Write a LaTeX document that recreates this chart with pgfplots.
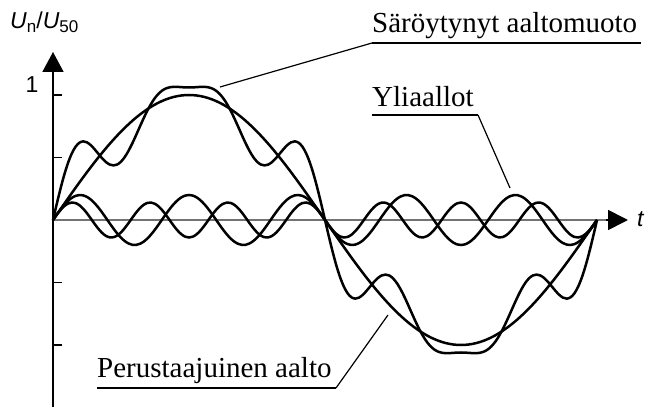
\documentclass[border=0pt]{standalone}
\usepackage{fontspec}
\setmainfont{Liberation Serif}
\newfontfamily\arial{Liberation Sans}
\usepackage{pgfplots}
\pgfplotsset{compat=1.18}
\usepackage{pgfplotstable}
\usetikzlibrary{arrows.meta}

% One period of the 50 Hz voltage (angle in degrees):
% s = fundamental, h5 = 5th harmonic, h7 = 7th harmonic, f = their sum
\pgfplotstableread{
t s h5 h7 f
0 0 0 0 0
2.5 0.0436 0.0433 0.0421 0.1290
5 0.0872 0.0845 0.0803 0.2520
7.5 0.1305 0.1218 0.1111 0.3634
10 0.1736 0.1532 0.1316 0.4584
12.5 0.2164 0.1774 0.1399 0.5337
15 0.2588 0.1932 0.1352 0.5872
17.5 0.3007 0.1998 0.1181 0.6186
20 0.3420 0.1970 0.0900 0.6290
22.5 0.3827 0.1848 0.0536 0.6211
25 0.4226 0.1638 0.0122 0.5986
27.5 0.4617 0.1351 -0.0303 0.5665
30 0.5000 0.1000 -0.0700 0.5300
32.5 0.5373 0.0601 -0.1032 0.4942
35 0.5736 0.0174 -0.1269 0.4641
37.5 0.6088 -0.0261 -0.1388 0.4439
40 0.6428 -0.0684 -0.1379 0.4365
42.5 0.6756 -0.1075 -0.1242 0.4439
45 0.7071 -0.1414 -0.0990 0.4667
47.5 0.7373 -0.1687 -0.0646 0.5040
50 0.7660 -0.1879 -0.0243 0.5538
52.5 0.7934 -0.1983 0.0183 0.6134
55 0.8192 -0.1992 0.0592 0.6792
57.5 0.8434 -0.1907 0.0946 0.7473
60 0.8660 -0.1732 0.1212 0.8140
62.5 0.8870 -0.1475 0.1367 0.8762
65 0.9063 -0.1147 0.1395 0.9311
67.5 0.9239 -0.0765 0.1293 0.9767
70 0.9397 -0.0347 0.1072 1.0122
72.5 0.9537 0.0087 0.0752 1.0376
75 0.9659 0.0518 0.0362 1.0539
77.5 0.9763 0.0923 -0.0061 1.0625
80 0.9848 0.1286 -0.0479 1.0655
82.5 0.9914 0.1587 -0.0852 1.0649
85 0.9962 0.1813 -0.1147 1.0628
87.5 0.9990 0.1953 -0.1335 1.0608
90 1.0000 0.2000 -0.1400 1.0600
92.5 0.9990 0.1953 -0.1335 1.0608
95 0.9962 0.1813 -0.1147 1.0628
97.5 0.9914 0.1587 -0.0852 1.0649
100 0.9848 0.1286 -0.0479 1.0655
102.5 0.9763 0.0923 -0.0061 1.0625
105 0.9659 0.0518 0.0362 1.0539
107.5 0.9537 0.0087 0.0752 1.0376
110 0.9397 -0.0347 0.1072 1.0122
112.5 0.9239 -0.0765 0.1293 0.9767
115 0.9063 -0.1147 0.1395 0.9311
117.5 0.8870 -0.1475 0.1367 0.8762
120 0.8660 -0.1732 0.1212 0.8140
122.5 0.8434 -0.1907 0.0946 0.7473
125 0.8192 -0.1992 0.0592 0.6792
127.5 0.7934 -0.1983 0.0183 0.6134
130 0.7660 -0.1879 -0.0243 0.5538
132.5 0.7373 -0.1687 -0.0646 0.5040
135 0.7071 -0.1414 -0.0990 0.4667
137.5 0.6756 -0.1075 -0.1242 0.4439
140 0.6428 -0.0684 -0.1379 0.4365
142.5 0.6088 -0.0261 -0.1388 0.4439
145 0.5736 0.0174 -0.1269 0.4641
147.5 0.5373 0.0601 -0.1032 0.4942
150 0.5000 0.1000 -0.0700 0.5300
152.5 0.4617 0.1351 -0.0303 0.5665
155 0.4226 0.1638 0.0122 0.5986
157.5 0.3827 0.1848 0.0536 0.6211
160 0.3420 0.1970 0.0900 0.6290
162.5 0.3007 0.1998 0.1181 0.6186
165 0.2588 0.1932 0.1352 0.5872
167.5 0.2164 0.1774 0.1399 0.5337
170 0.1736 0.1532 0.1316 0.4584
172.5 0.1305 0.1218 0.1111 0.3634
175 0.0872 0.0845 0.0803 0.2520
177.5 0.0436 0.0433 0.0421 0.1290
180 0 0 0 0
182.5 -0.0436 -0.0433 -0.0421 -0.1290
185 -0.0872 -0.0845 -0.0803 -0.2520
187.5 -0.1305 -0.1218 -0.1111 -0.3634
190 -0.1736 -0.1532 -0.1316 -0.4584
192.5 -0.2164 -0.1774 -0.1399 -0.5337
195 -0.2588 -0.1932 -0.1352 -0.5872
197.5 -0.3007 -0.1998 -0.1181 -0.6186
200 -0.3420 -0.1970 -0.0900 -0.6290
202.5 -0.3827 -0.1848 -0.0536 -0.6211
205 -0.4226 -0.1638 -0.0122 -0.5986
207.5 -0.4617 -0.1351 0.0303 -0.5665
210 -0.5000 -0.1000 0.0700 -0.5300
212.5 -0.5373 -0.0601 0.1032 -0.4942
215 -0.5736 -0.0174 0.1269 -0.4641
217.5 -0.6088 0.0261 0.1388 -0.4439
220 -0.6428 0.0684 0.1379 -0.4365
222.5 -0.6756 0.1075 0.1242 -0.4439
225 -0.7071 0.1414 0.0990 -0.4667
227.5 -0.7373 0.1687 0.0646 -0.5040
230 -0.7660 0.1879 0.0243 -0.5538
232.5 -0.7934 0.1983 -0.0183 -0.6134
235 -0.8192 0.1992 -0.0592 -0.6792
237.5 -0.8434 0.1907 -0.0946 -0.7473
240 -0.8660 0.1732 -0.1212 -0.8140
242.5 -0.8870 0.1475 -0.1367 -0.8762
245 -0.9063 0.1147 -0.1395 -0.9311
247.5 -0.9239 0.0765 -0.1293 -0.9767
250 -0.9397 0.0347 -0.1072 -1.0122
252.5 -0.9537 -0.0087 -0.0752 -1.0376
255 -0.9659 -0.0518 -0.0362 -1.0539
257.5 -0.9763 -0.0923 0.0061 -1.0625
260 -0.9848 -0.1286 0.0479 -1.0655
262.5 -0.9914 -0.1587 0.0852 -1.0649
265 -0.9962 -0.1813 0.1147 -1.0628
267.5 -0.9990 -0.1953 0.1335 -1.0608
270 -1.0000 -0.2000 0.1400 -1.0600
272.5 -0.9990 -0.1953 0.1335 -1.0608
275 -0.9962 -0.1813 0.1147 -1.0628
277.5 -0.9914 -0.1587 0.0852 -1.0649
280 -0.9848 -0.1286 0.0479 -1.0655
282.5 -0.9763 -0.0923 0.0061 -1.0625
285 -0.9659 -0.0518 -0.0362 -1.0539
287.5 -0.9537 -0.0087 -0.0752 -1.0376
290 -0.9397 0.0347 -0.1072 -1.0122
292.5 -0.9239 0.0765 -0.1293 -0.9767
295 -0.9063 0.1147 -0.1395 -0.9311
297.5 -0.8870 0.1475 -0.1367 -0.8762
300 -0.8660 0.1732 -0.1212 -0.8140
302.5 -0.8434 0.1907 -0.0946 -0.7473
305 -0.8192 0.1992 -0.0592 -0.6792
307.5 -0.7934 0.1983 -0.0183 -0.6134
310 -0.7660 0.1879 0.0243 -0.5538
312.5 -0.7373 0.1687 0.0646 -0.5040
315 -0.7071 0.1414 0.0990 -0.4667
317.5 -0.6756 0.1075 0.1242 -0.4439
320 -0.6428 0.0684 0.1379 -0.4365
322.5 -0.6088 0.0261 0.1388 -0.4439
325 -0.5736 -0.0174 0.1269 -0.4641
327.5 -0.5373 -0.0601 0.1032 -0.4942
330 -0.5000 -0.1000 0.0700 -0.5300
332.5 -0.4617 -0.1351 0.0303 -0.5665
335 -0.4226 -0.1638 -0.0122 -0.5986
337.5 -0.3827 -0.1848 -0.0536 -0.6211
340 -0.3420 -0.1970 -0.0900 -0.6290
342.5 -0.3007 -0.1998 -0.1181 -0.6186
345 -0.2588 -0.1932 -0.1352 -0.5872
347.5 -0.2164 -0.1774 -0.1399 -0.5337
350 -0.1736 -0.1532 -0.1316 -0.4584
352.5 -0.1305 -0.1218 -0.1111 -0.3634
355 -0.0872 -0.0845 -0.0803 -0.2520
357.5 -0.0436 -0.0433 -0.0421 -0.1290
360 0 0 0 0
}\waves

\begin{document}
\begin{tikzpicture}
\begin{axis}[
  at={(0,0)}, anchor=south west,
  scale only axis, width=649bp, height=407bp,
  xmin=-35.07, xmax=394.4, ymin=-1.496, ymax=1.76,
  hide axis, clip=false,
  curve/.style={black, line width=2.5bp, smooth},
]
  % axes with arrow heads
  \draw[black!55, line width=1.7bp] (axis cs:0,0) -- (axis cs:368,0);
  \draw[line width=1.7bp, -{Triangle[length=20bp,width=20bp]}]
       (axis cs:366,0) -- (axis cs:380.5,0);
  \draw[line width=1.7bp, -{Triangle[length=20bp,width=21bp]}]
       (axis cs:0,-1.496) -- (axis cs:0,1.344);
  % short tick marks on the voltage axis
  \draw[line width=1.5bp] (axis cs:0,1) -- (axis cs:5.8,1);
  \draw[line width=1.5bp] (axis cs:0,0.5) -- (axis cs:5.8,0.5);
  \draw[line width=1.5bp] (axis cs:0,-0.5) -- (axis cs:5.8,-0.5);
  \draw[line width=1.5bp] (axis cs:0,-1) -- (axis cs:5.8,-1);

  \addplot[curve] table[x=t, y=s]  {\waves};
  \addplot[curve] table[x=t, y=h5] {\waves};
  \addplot[curve] table[x=t, y=h7] {\waves};
  \addplot[curve] table[x=t, y=f]  {\waves};
\end{axis}

% labels and leader lines (1 unit = 1 bp, y downwards from the top edge)
\begin{scope}[x=1bp, y=-1bp, shift={(0,407bp)}]
  \node[anchor=base west, inner sep=0] at (10,29)
    {\arial\fontsize{23bp}{26bp}\selectfont\textit{U}\raisebox{-4bp}{\fontsize{17bp}{18bp}\selectfont n}/\textit{U}\raisebox{-4bp}{\fontsize{17bp}{18bp}\selectfont 50}};
  \node[inner sep=0] at (32,85)
    {\arial\fontsize{23bp}{26bp}\selectfont 1};
  \node[anchor=west, inner sep=0] at (637,219)
    {\arial\fontsize{23bp}{26bp}\selectfont\textit{t}};

  \node[anchor=base west, inner sep=0] at (372,33)
    {\fontsize{29bp}{34bp}\selectfont Säröytynyt aaltomuoto};
  \draw[line width=1.6bp] (372,43) -- (641,43);
  \draw[line width=1.2bp] (372,43) -- (220,87);

  \node[anchor=base west, inner sep=0] at (372,107)
    {\fontsize{29bp}{34bp}\selectfont Yliaallot};
  \draw[line width=1.6bp] (372,115) -- (478,115);
  \draw[line width=1.2bp] (478,115) -- (510,188);

  \node[anchor=base west, inner sep=0] at (97,378)
    {\fontsize{29bp}{34bp}\selectfont Perustaajuinen aalto};
  \draw[line width=1.6bp] (97,388) -- (336,388);
  \draw[line width=1.2bp] (336,388) -- (388,315);
\end{scope}

\pgfresetboundingbox
\useasboundingbox (0,0) rectangle (649bp,407bp);
\end{tikzpicture}
\end{document}
